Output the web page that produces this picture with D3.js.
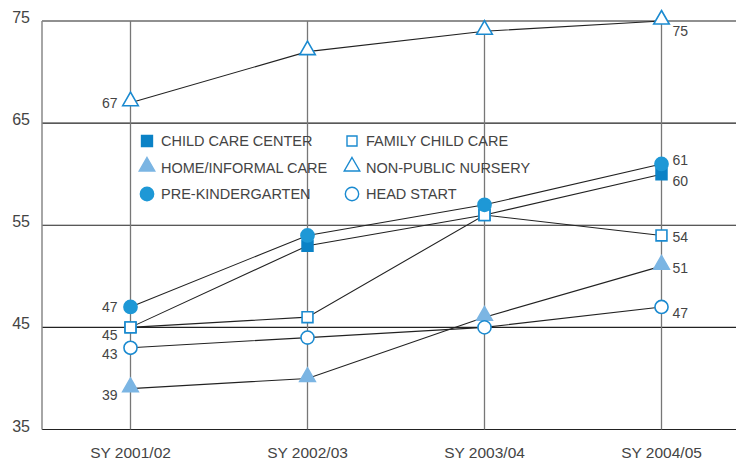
<!DOCTYPE html>
<html>
<head>
<meta charset="utf-8">
<script src="https://cdn.jsdelivr.net/npm/d3@7"></script>
<style>
  html, body { margin: 0; padding: 0; background: #fff; }
  svg { display: block; }
  text { font-family: "Liberation Sans", "Arial", sans-serif; fill: #444; }
</style>
</head>
<body>
<svg id="chart" width="736" height="463"></svg>
<script>
// School years on the x axis
const years = ["SY 2001/02", "SY 2002/03", "SY 2003/04", "SY 2004/05"];
const yTicks = [35, 45, 55, 65, 75];

// Percentages by care setting
const childCareCenter = [45, 53, 56, 60];
const familyChildCare = [45, 46, 56, 54];
const homeInformalCare = [39, 40, 46, 51];
const nonPublicNursery = [67, 72, 74, 75];
const preKindergarten = [47, 54, 57, 61];
const headStart = [43, 44, 45, 47];

const series = [
  { name: "CHILD CARE CENTER", values: childCareCenter, shape: "square", fill: "#0b82c6", stroke: "#0b82c6", labels: [null, 60] },
  { name: "FAMILY CHILD CARE", values: familyChildCare, shape: "square", fill: "#fff", stroke: "#1a8ad0", labels: [45, 54] },
  { name: "HOME/INFORMAL CARE", values: homeInformalCare, shape: "triangle", fill: "#7bb5e3", stroke: "#7bb5e3", labels: [39, 51] },
  { name: "NON-PUBLIC NURSERY", values: nonPublicNursery, shape: "triangle", fill: "#fff", stroke: "#1a8ad0", labels: [67, 75] },
  { name: "PRE-KINDERGARTEN", values: preKindergarten, shape: "circle", fill: "#1e98d6", stroke: "#1e98d6", labels: [47, 61] },
  { name: "HEAD START", values: headStart, shape: "circle", fill: "#fff", stroke: "#1a8ad0", labels: [43, 47] }
];

// Vertical nudges (px) for end labels so they don't collide
const leftNudge = { "CHILD CARE CENTER": 0, "FAMILY CHILD CARE": 8, "HOME/INFORMAL CARE": 6, "NON-PUBLIC NURSERY": 0, "PRE-KINDERGARTEN": 0, "HEAD START": 6 };
const rightNudge = { "CHILD CARE CENTER": 7, "FAMILY CHILD CARE": 2, "HOME/INFORMAL CARE": 2, "NON-PUBLIC NURSERY": 10, "PRE-KINDERGARTEN": -4, "HEAD START": 6 };

const svg = d3.select("#chart");
const plotLeft = 42, plotTop = 21, plotBottom = 429.5;

const x = d3.scaleBand().domain(years).range([plotLeft, plotLeft + 4 * 177]).paddingInner(0).paddingOuter(0);
const cx = d => x(d) + x.bandwidth() / 2;
const y = d3.scaleLinear().domain([35, 75]).range([plotBottom, plotTop]);

// Horizontal grid lines
svg.append("g").selectAll("line").data(yTicks).join("line")
  .attr("x1", plotLeft).attr("x2", 736)
  .attr("y1", d => y(d)).attr("y2", d => y(d))
  .attr("stroke", "#222").attr("stroke-width", 1.2);

// Vertical category lines
svg.append("g").selectAll("line").data(years).join("line")
  .attr("x1", d => cx(d)).attr("x2", d => cx(d))
  .attr("y1", plotTop).attr("y2", plotBottom)
  .attr("stroke", "#777").attr("stroke-width", 1.3);

// Left axis line
svg.append("line")
  .attr("x1", plotLeft).attr("x2", plotLeft)
  .attr("y1", plotTop).attr("y2", plotBottom)
  .attr("stroke", "#888").attr("stroke-width", 1.5);

// Y tick labels
const yAxis = d3.axisLeft(y).tickValues(yTicks).tickSize(0).tickPadding(12);
const yg = svg.append("g").attr("transform", `translate(${plotLeft},0)`).call(yAxis);
yg.select(".domain").remove();
yg.selectAll("text").attr("font-size", 16).attr("fill", "#444")
  .style("font-family", "'Liberation Sans', sans-serif").attr("dy", "0.1em");

// X tick labels
const xAxis = d3.axisBottom(x).tickSize(0).tickPadding(17);
const xg = svg.append("g").attr("transform", `translate(0,${plotBottom})`).call(xAxis);
xg.select(".domain").remove();
xg.selectAll("text").attr("font-size", 15.5).attr("fill", "#444")
  .style("font-family", "'Liberation Sans', sans-serif");

// Lines
const line = d3.line().x((d, i) => cx(years[i])).y(d => y(d));
svg.append("g").selectAll("path").data(series).join("path")
  .attr("d", s => line(s.values))
  .attr("fill", "none").attr("stroke", "#222").attr("stroke-width", 1.1);

function symbolFor(shape) {
  if (shape === "square") return d3.symbol(d3.symbolSquare, 118);
  if (shape === "triangle") return d3.symbol(d3.symbolTriangle, 105);
  return d3.symbol(d3.symbolCircle, 135);
}

// Markers
series.forEach(s => {
  const g = svg.append("g");
  g.selectAll("path").data(s.values).join("path")
    .attr("transform", (d, i) => `translate(${cx(years[i])},${y(d) + (s.shape === "triangle" ? -1.5 : 0)})`)
    .attr("d", symbolFor(s.shape)())
    .attr("fill", s.fill).attr("stroke", s.stroke).attr("stroke-width", 1.6);
});

// End value labels
series.forEach(s => {
  const first = s.values[0], last = s.values[s.values.length - 1];
  if (s.labels[0] !== null) {
    svg.append("text")
      .attr("x", cx(years[0]) - 13).attr("y", y(first) + leftNudge[s.name])
      .attr("dy", "0.35em").attr("text-anchor", "end")
      .attr("font-size", 14).text(first);
  }
  svg.append("text")
    .attr("x", cx(years[3]) + 11).attr("y", y(last) + rightNudge[s.name])
    .attr("dy", "0.35em").attr("text-anchor", "start")
    .attr("font-size", 14).text(last);
});

// Legend in two columns
const legend = svg.append("g");
const colX = [147, 352], rowY = [141, 167.5, 194];
series.forEach((s, i) => {
  const lx = colX[i % 2], ly = rowY[Math.floor(i / 2)];
  legend.append("path")
    .attr("transform", `translate(${lx},${ly + (s.shape === "triangle" ? -1 : 0)})`)
    .attr("d", (s.shape === "square" ? d3.symbol(d3.symbolSquare, s.fill === "#fff" ? 100 : 120)
              : s.shape === "triangle" ? d3.symbol(d3.symbolTriangle, 105)
              : d3.symbol(d3.symbolCircle, 140))())
    .attr("fill", s.fill).attr("stroke", s.stroke).attr("stroke-width", 1.4);
  legend.append("text")
    .attr("x", lx + 14).attr("y", ly).attr("dy", "0.36em")
    .attr("font-size", 14.5).attr("fill", "#333").text(s.name);
});
</script>
</body>
</html>
